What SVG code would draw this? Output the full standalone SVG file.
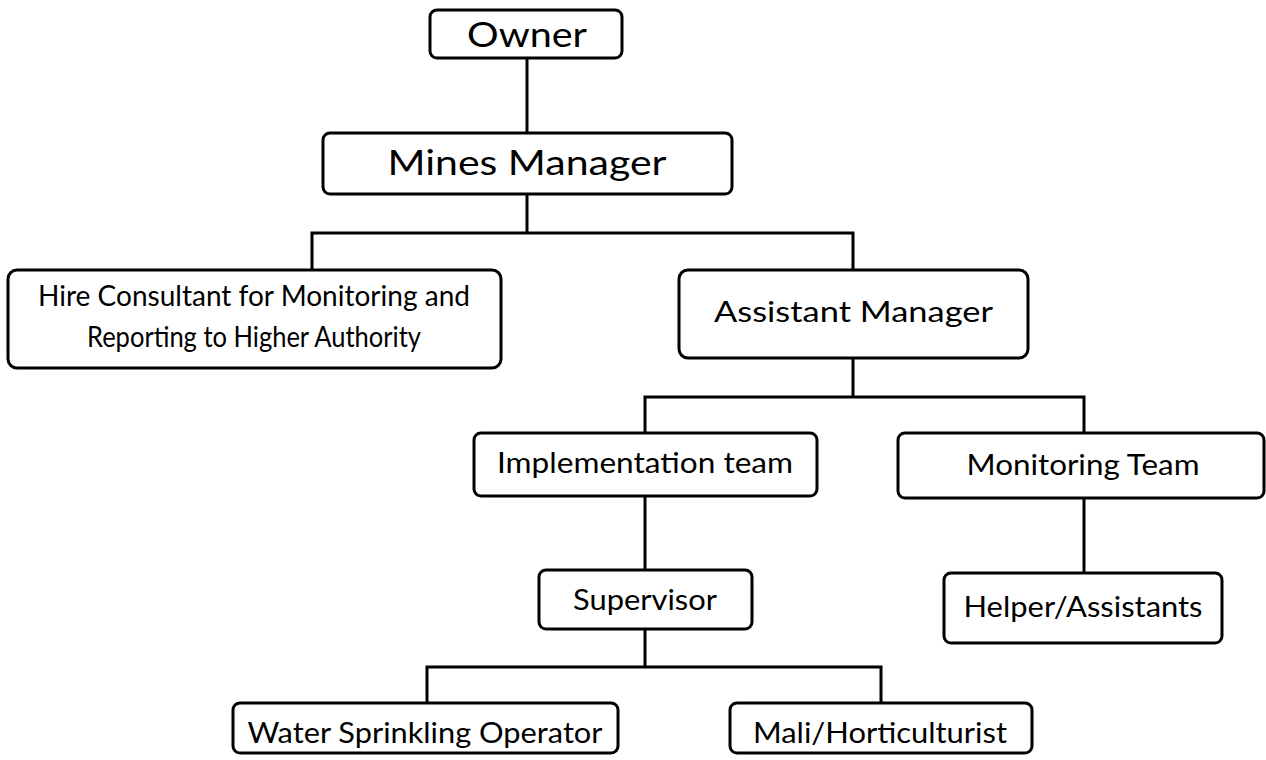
<svg xmlns="http://www.w3.org/2000/svg" width="1266" height="760" viewBox="0 0 1266 760">
<style>
.box{fill:#fff;stroke:#000;stroke-width:3}
.t{font-family:Lato,"Open Sans","Liberation Sans",sans-serif;fill:#000;text-anchor:middle}
.big{font-size:35px}
.mid{font-size:29px}
.sm{font-size:28px}
.c{fill:none;stroke:#000;stroke-width:3}
</style>
<rect width="1266" height="760" fill="#fff"/>
<g id="connectors">
<path class="c" d="M527 58V133"/>
<path class="c" d="M527 194V233M312 270V233H853V270"/>
<path class="c" d="M853 358V397M645 433V397H1084V433"/>
<path class="c" d="M645 496V570"/>
<path class="c" d="M1084 498V573"/>
<path class="c" d="M645 629V667M427 703V667H881V703"/>
</g>
<g id="owner"><rect class="box" x="430" y="10" width="192" height="48" rx="7"/><text class="t big" x="527" y="47" textLength="120" lengthAdjust="spacingAndGlyphs">Owner</text></g>
<g id="mines-manager"><rect class="box" x="323" y="133" width="409" height="61" rx="7"/><text class="t big" x="527" y="175" textLength="279" lengthAdjust="spacingAndGlyphs">Mines Manager</text></g>
<g id="hire-consultant"><rect class="box" x="8" y="270" width="493" height="98" rx="9"/><text class="t mid" x="254" y="306" textLength="432" lengthAdjust="spacingAndGlyphs">Hire Consultant for Monitoring and</text><text class="t mid" x="254" y="347" textLength="334" lengthAdjust="spacingAndGlyphs">Reporting to Higher Authority</text></g>
<g id="assistant-manager"><rect class="box" x="679" y="270" width="349" height="88" rx="9"/><text class="t mid" x="853.5" y="322" textLength="279" lengthAdjust="spacingAndGlyphs">Assistant Manager</text></g>
<g id="implementation-team"><rect class="box" x="474" y="433" width="343" height="63" rx="7"/><text class="t sm" x="645" y="473" textLength="296" lengthAdjust="spacingAndGlyphs">Implementation team</text></g>
<g id="monitoring-team"><rect class="box" x="898" y="433" width="366" height="65" rx="7"/><text class="t sm" x="1083" y="475" textLength="233" lengthAdjust="spacingAndGlyphs">Monitoring Team</text></g>
<g id="supervisor"><rect class="box" x="539" y="570" width="213" height="59" rx="7"/><text class="t sm" x="645" y="610" textLength="144" lengthAdjust="spacingAndGlyphs">Supervisor</text></g>
<g id="helper-assistants"><rect class="box" x="944" y="573" width="278" height="70" rx="7"/><text class="t sm" x="1083" y="617" textLength="239" lengthAdjust="spacingAndGlyphs">Helper/Assistants</text></g>
<g id="water-sprinkling-operator"><rect class="box" x="233" y="703" width="385" height="50" rx="7"/><text class="t sm" x="425" y="743" textLength="355" lengthAdjust="spacingAndGlyphs">Water Sprinkling Operator</text></g>
<g id="mali-horticulturist"><rect class="box" x="730" y="703" width="302" height="50" rx="7"/><text class="t sm" x="880" y="743" textLength="254" lengthAdjust="spacingAndGlyphs">Mali/Horticulturist</text></g>
</svg>
